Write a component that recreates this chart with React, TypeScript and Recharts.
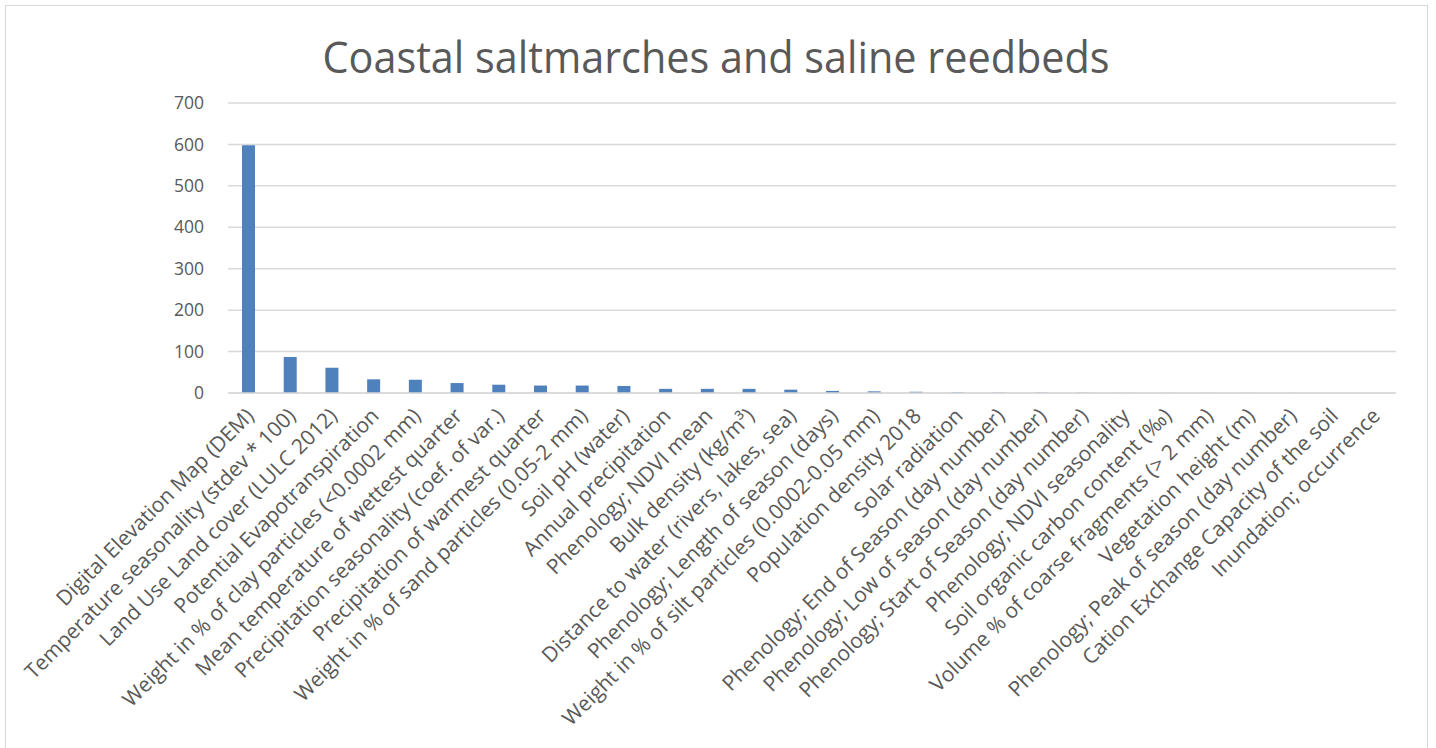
import React from 'react';
import { BarChart, Bar, XAxis, YAxis, CartesianGrid } from 'recharts';

const categories: string[] = [
  'Digital Elevation Map (DEM)',
  'Temperature seasonality (stdev * 100)',
  'Land Use Land cover (LULC 2012)',
  'Potential Evapotranspiration',
  'Weight in % of clay particles (<0.0002 mm)',
  'Mean temperature of wettest quarter',
  'Precipitation seasonality (coef. of var.)',
  'Precipitation of warmest quarter',
  'Weight in % of sand particles (0.05-2 mm)',
  'Soil pH (water)',
  'Annual precipitation',
  'Phenology; NDVI mean',
  'Bulk density (kg/m³)',
  'Distance to water (rivers, lakes, sea)',
  'Phenology; Length of season (days)',
  'Weight in % of silt particles (0.0002-0.05 mm)',
  'Population density 2018',
  'Solar radiation',
  'Phenology; End of Season (day number)',
  'Phenology; Low of season (day number)',
  'Phenology; Start of Season (day number)',
  'Phenology; NDVI seasonality',
  'Soil organic carbon content (‰)',
  'Volume % of coarse fragments (> 2 mm)',
  'Vegetation height (m)',
  'Phenology; Peak of season (day number)',
  'Cation Exchange Capacity of the soil',
  'Inundation; occurrence',
];

const values: number[] = [
  598, 87, 61, 33, 32, 24, 20, 18, 18, 17, 10, 10, 10, 8, 5, 4, 3, 1.5, 1, 1,
  0.8, 0.3, 0.2, 0.1, 0.1, 0.1, 0.05, 0,
];

const yTicks: number[] = [0, 100, 200, 300, 400, 500, 600, 700];

const title = 'Coastal saltmarches and saline reedbeds';

const data = categories.map((name, i) => ({ name, value: values[i] }));

const FONT = '"Open Sans", "Liberation Sans", sans-serif';
const TEXT = '#595959';

const CatTick = (props: any) => {
  const { x, y, payload } = props;
  return (
    <g transform={`translate(${x + 1},${y + 11})`}>
      <text
        transform="rotate(-45)"
        textAnchor="end"
        dy="0.35em"
        fill={TEXT}
        fontSize={21}
        fontFamily={FONT}
      >
        {payload.value}
      </text>
    </g>
  );
};

export default function App() {
  return (
    <div style={{ position: 'absolute', left: 0, top: 0, width: 1436, height: 748, overflow: 'hidden', background: '#fff' }}>
      <div
        style={{
          position: 'absolute',
          left: 5,
          top: 5,
          width: 1423,
          height: 800,
          border: '1.5px solid #d9d9d9',
          boxSizing: 'border-box',
        }}
      />
      <svg style={{ position: 'absolute', left: 0, top: 0 }} width={1436} height={100}>
        <text
          x={716}
          y={73}
          textAnchor="middle"
          fontFamily={FONT}
          fontSize={44}
          fill={TEXT}
          textLength={787}
          lengthAdjust="spacingAndGlyphs"
        >
          {title}
        </text>
      </svg>
      <div style={{ position: 'absolute', left: 0, top: 0 }}>
        <BarChart
          width={1436}
          height={748}
          data={data}
          margin={{ top: 103, right: 40, left: 168, bottom: 0 }}
          barCategoryGap={0}
        >
          <CartesianGrid vertical={false} stroke="#d9d9d9" strokeWidth={1.5} />
          <XAxis
            dataKey="name"
            interval={0}
            tickLine={false}
            axisLine={{ stroke: '#d9d9d9', strokeWidth: 1.5 }}
            height={355}
            tick={<CatTick />}
          />
          <YAxis
            width={60}
            domain={[0, 700]}
            ticks={yTicks}
            axisLine={false}
            tickLine={false}
            tickMargin={18}
            tick={{ fill: TEXT, fontSize: 17.5, fontFamily: FONT }}
          />
          <Bar dataKey="value" fill="#4f81bd" barSize={13} isAnimationActive={false} />
        </BarChart>
      </div>
    </div>
  );
}
